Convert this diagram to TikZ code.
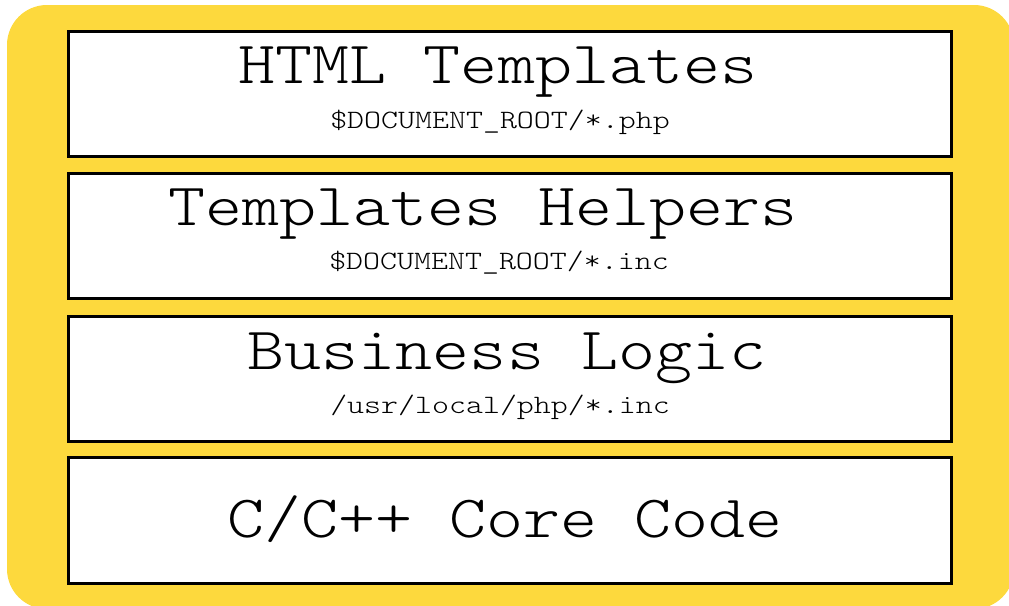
\documentclass[tikz,border=0pt]{standalone}
\usepackage{fontspec}
\newfontfamily\courlike{Latin Modern Mono Light}
\definecolor{bgyellow}{HTML}{FDD93D}
\newcommand{\bigtt}[1]{\scalebox{1.175}[1.0]{\courlike\fontsize{60}{60}\selectfont #1}}
\newcommand{\smalltt}[1]{\scalebox{1.22}[1.0]{\courlike\fontsize{26.5}{26.5}\selectfont #1}}
\begin{document}
\begin{tikzpicture}[x=1pt,y=-1pt,
  layer/.style={draw=black, line width=3pt, fill=white, anchor=north west, minimum width=883pt, minimum height=125.5pt, inner sep=0pt},
  ttl/.style={anchor=base, inner sep=0pt},
  sub/.style={anchor=base, inner sep=0pt}]
\useasboundingbox (0,0) rectangle (1009,605);
\fill[bgyellow, rounded corners=40pt] (7,5) rectangle (1014,609);
\node[layer] (b1) at (66.5,29.5) {};
\node[layer] (b2) at (66.5,171.5) {};
\node[layer] (b3) at (66.5,314.5) {};
\node[layer] (b4) at (66.5,456) {};
\node[ttl] (t1) at (498,83) {\bigtt{HTML Templates}};
\node[sub] (s1) at (500,128) {\smalltt{\$DOCUMENT\_ROOT/*.php}};
\node[ttl] (t2) at (483,225) {\bigtt{Templates Helpers}};
\node[sub] (s2) at (499,269) {\smalltt{\$DOCUMENT\_ROOT/*.inc}};
\node[ttl] (t3) at (507,369) {\bigtt{Business Logic}};
\node[sub] (s3) at (500,413) {\smalltt{/usr/local/php/*.inc}};
\node[ttl] (t4) at (505,537) {\bigtt{C/C++ Core Code}};
\end{tikzpicture}
\end{document}
